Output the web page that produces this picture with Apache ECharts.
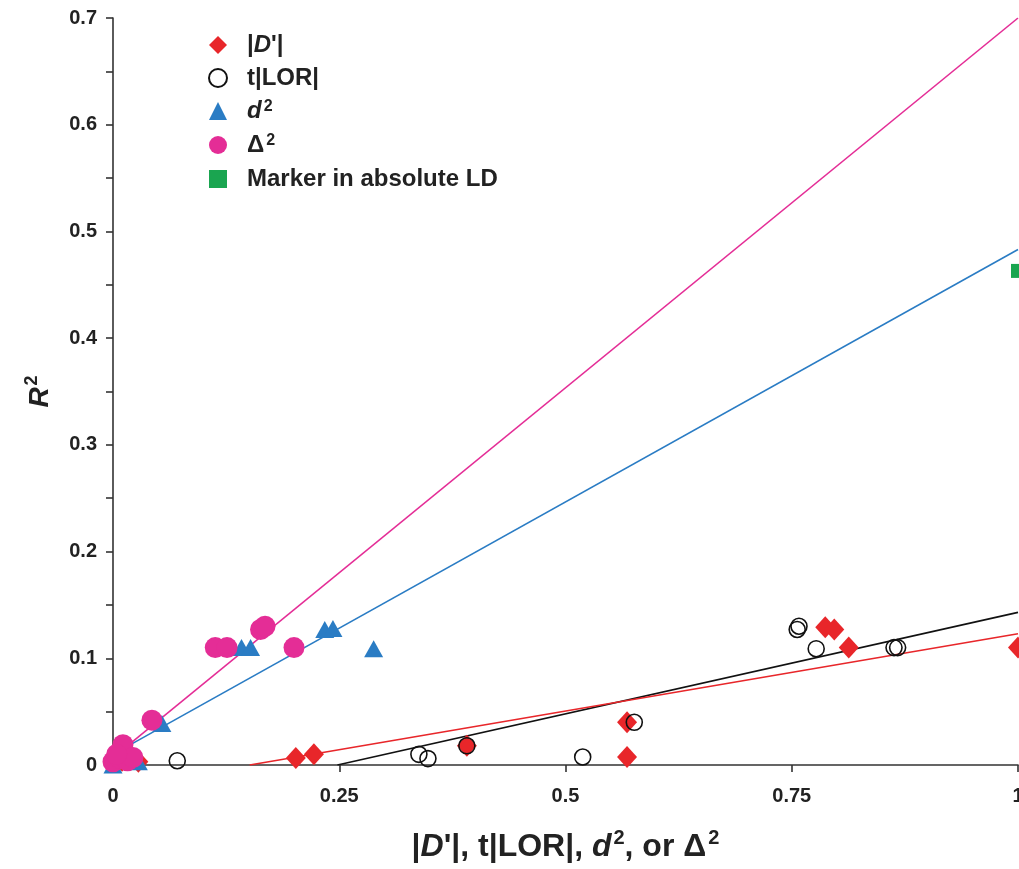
<!DOCTYPE html>
<html>
<head>
<meta charset="utf-8">
<script src="https://cdn.jsdelivr.net/npm/echarts@6/dist/echarts.min.js"></script>
<style>html,body{margin:0;padding:0;background:#fff}#c{width:1019px;height:869px}</style>
</head>
<body>
<div id="c"></div>
<script>
// ---- data ----
var dPrime = [[1.0,0.110],[0.787,0.129],[0.797,0.127],[0.813,0.110],[0.568,0.040],[0.568,0.0075],
  [0.391,0.018],[0.202,0.0066],[0.222,0.010],[0.028,0.003],[0.010,0.004]];
var tLOR = [[0.756,0.127],[0.758,0.130],[0.777,0.109],[0.863,0.110],[0.867,0.110],[0.576,0.040],
  [0.519,0.0075],[0.338,0.010],[0.348,0.006],[0.391,0.018],[0.071,0.004]];
var dSq = [[0.288,0.109],[0.234,0.127],[0.243,0.128],[0.142,0.110],[0.152,0.110],[0.054,0.039],
  [0.028,0.003],[0.0,0.0],[0.012,0.006]];
var deltaSq = [[0.200,0.110],[0.163,0.127],[0.168,0.130],[0.113,0.110],[0.126,0.110],[0.043,0.042],
  [0.011,0.019],[0.0,0.003],[0.008,0.006],[0.016,0.004],[0.022,0.007],[0.004,0.010]];
var absLD = [[1.0,0.463]];
// regression lines (endpoints)
var fitDelta = [[0,0.007],[1,0.700]];
var fitD2 = [[0,0.010],[1,0.483]];
var fitLOR = [[0.248,0],[1,0.143]];
var fitDp = [[0.151,0],[1,0.123]];
var xTicks = [0,0.25,0.5,0.75,1];

var RED='#e8262a', BLUE='#2a7cc4', PINK='#e42d96', GREEN='#1aa550', BLK='#111';
var FF='"Liberation Sans", Arial, sans-serif';

var legendLabels = {
  Dp:'{n||}{i|D}{n|\'|}',
  LOR:'{n|t|LOR|}',
  d2:'{i|d}{s|2}',
  D2:'{n|\u0394}{s|2}',
  LD:'{n|Marker in absolute LD}'
};

function line(d,c){return {type:'line',data:d,symbol:'none',silent:true,z:1,
  lineStyle:{color:c,width:1.6},animation:false};}
function sc(name,d,sym,size,style){style.opacity=1;return {type:'scatter',name:name,data:d,symbol:sym,symbolSize:size,
  itemStyle:style,z:3,animation:false,clip:false};}

var chart = echarts.init(document.getElementById('c'));
chart.setOption({
  backgroundColor:'#fff',
  animation:false,
  grid:{left:113,right:1,top:18,bottom:104,containLabel:false,outerBoundsMode:'none'},
  legend:{
    orient:'vertical',left:203,top:28,itemWidth:18,itemHeight:18,itemGap:9,
    data:['Dp','LOR','d2','D2','LD'],
    formatter:function(n){return legendLabels[n];},
    textStyle:{padding:[0,0,0,15],rich:{
      n:{fontFamily:FF,fontWeight:'bold',fontSize:24,color:'#222',lineHeight:24},
      i:{fontFamily:FF,fontWeight:'bold',fontStyle:'italic',fontSize:24,color:'#222',lineHeight:24},
      s:{fontFamily:FF,fontWeight:'bold',fontSize:16,color:'#222',lineHeight:16,verticalAlign:'top',padding:[0,0,9,2]}
    }}
  },
  xAxis:{type:'value',min:0,max:1,interval:0.25,
    name:'{n||}{i|D}{n|\'|, t|LOR|, }{i|d}{s|2}{n|, or \u0394}{s|2}',nameLocation:'middle',nameGap:63,
    nameTextStyle:{rich:{
      n:{fontFamily:FF,fontWeight:'bold',fontSize:32,color:'#222'},
      i:{fontFamily:FF,fontWeight:'bold',fontStyle:'italic',fontSize:32,color:'#222'},
      s:{fontFamily:FF,fontWeight:'bold',fontSize:20,color:'#222',padding:[0,0,19,2]}
    }},
    axisLine:{show:true,onZero:false,lineStyle:{color:'#333',width:1.6}},
    axisTick:{show:true,inside:false,length:7,lineStyle:{color:'#333',width:1.6}},
    axisLabel:{margin:21,fontFamily:FF,fontWeight:'bold',fontSize:20,color:'#222',
      formatter:function(v){return xTicks.indexOf(v)>=0?String(v):'';}},
    splitLine:{show:false}
  },
  yAxis:{type:'value',min:0,max:0.7,interval:0.1,
    name:'{i|R}{s|2}',nameLocation:'middle',nameGap:56,nameRotate:90,
    nameTextStyle:{rich:{
      i:{fontFamily:FF,fontWeight:'bold',fontStyle:'italic',fontSize:28,color:'#222'},
      s:{fontFamily:FF,fontWeight:'bold',fontSize:18,color:'#222',padding:[0,0,16,2]}
    }},
    axisLine:{show:true,lineStyle:{color:'#333',width:1.6}},
    axisTick:{show:true,length:7,lineStyle:{color:'#333',width:1.6}},
    minorTick:{show:true,splitNumber:2,length:7,lineStyle:{color:'#333',width:1.6}},
    axisLabel:{margin:16,fontFamily:FF,fontWeight:'bold',fontSize:20,color:'#222',
      formatter:function(v){return String(Math.round(v*10)/10);}},
    splitLine:{show:false},minorSplitLine:{show:false}
  },
  series:[
    line(fitDelta,PINK), line(fitD2,BLUE), line(fitLOR,BLK), line(fitDp,RED),
    sc('Dp',dPrime,'diamond',[20,22],{color:RED}),
    sc('LOR',tLOR,'circle',16,{color:'rgba(255,255,255,0)',borderColor:BLK,borderWidth:1.6}),
    sc('d2',dSq,'triangle',[19,17],{color:BLUE}),
    sc('D2',deltaSq,'circle',21,{color:PINK}),
    sc('LD',absLD,'rect',[14,14],{color:GREEN})
  ]
});
</script>
</body>
</html>
